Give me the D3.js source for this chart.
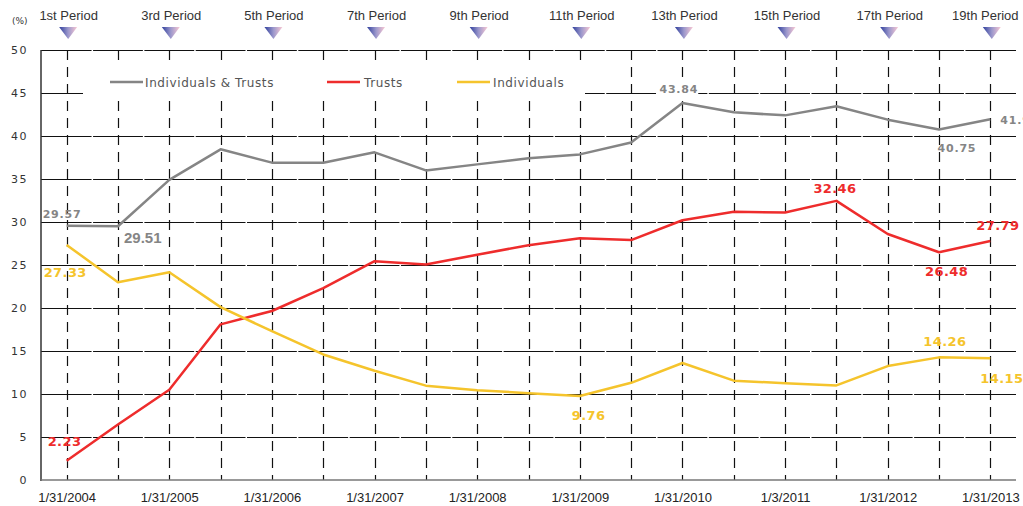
<!DOCTYPE html>
<html>
<head>
<meta charset="utf-8">
<script src="https://cdn.jsdelivr.net/npm/d3@7"></script>
<style>
  html, body { margin: 0; padding: 0; background: #fff; }
  svg { display: block; }
</style>
</head>
<body>
<svg id="chart" width="1023" height="506"></svg>
<script>
// ---------- data ----------
const dateLabels = ["1/31/2004", "", "1/31/2005", "", "1/31/2006", "", "1/31/2007", "", "1/31/2008", "",
                    "1/31/2009", "", "1/31/2010", "", "1/3/2011", "", "1/31/2012", "", "1/31/2013"];
const periodLabels = ["1st Period", "", "3rd Period", "", "5th Period", "", "7th Period", "", "9th Period", "",
                      "11th Period", "", "13th Period", "", "15th Period", "", "17th Period", "", "19th Period"];
const yTicks = [0, 5, 10, 15, 20, 25, 30, 35, 40, 45, 50];

const individualsTrusts = [29.57, 29.51, 34.9, 38.45, 36.9, 36.9, 38.1, 36.0, 36.7, 37.4,
                           37.86, 39.25, 43.84, 42.75, 42.4, 43.45, 41.9, 40.75, 41.94];
const trusts = [2.23, 6.45, 10.5, 18.1, 19.65, 22.3, 25.45, 25.05, 26.2, 27.3,
                28.1, 27.9, 30.2, 31.2, 31.1, 32.46, 28.6, 26.48, 27.79];
const individuals = [27.33, 23.0, 24.15, 20.1, 17.3, 14.6, 12.7, 10.97, 10.45, 10.1,
                     9.76, 11.3, 13.6, 11.55, 11.25, 11.0, 13.25, 14.26, 14.15];

const seriesNames = ["Individuals & Trusts", "Trusts", "Individuals"];
const seriesColors = ["#858585", "#ee2c2c", "#f5c42c"];
const seriesValues = [individualsTrusts, trusts, individuals];

// value labels: [series index, point index]
const valueLabels = [
  [0, 0], [0, 1], [0, 12], [0, 17], [0, 18],
  [1, 0], [1, 15], [1, 17], [1, 18],
  [2, 0], [2, 10], [2, 17], [2, 18]
];
// label offsets from the point (layout only)
const labelOffsets = [
  [-24, -8], [6, 17], [-23, -10], [-1.5, 22.5], [10, 4.7],
  [-19, -15], [-23, -7.5], [-14, 24], [-14, -11],
  [-23, 32], [-8, 24], [-15.7, -11.4], [-10, 25]
];

// ---------- layout ----------
const svg = d3.select("#chart");
const mLeft = 41, mRight = 1016, mTop = 50, mBottom = 480;

const x = d3.scalePoint().domain(d3.range(19)).range([mLeft, mRight]).padding(0.5);
const y = d3.scaleLinear().domain([0, 50]).range([mBottom, mTop]);
const step = x.step();

const defs = svg.append("defs");
const grad = defs.append("linearGradient").attr("id", "triGrad")
  .attr("x1", "0%").attr("x2", "100%").attr("y1", "0%").attr("y2", "0%");
grad.append("stop").attr("offset", "0%").attr("stop-color", "#2f3f9c");
grad.append("stop").attr("offset", "50%").attr("stop-color", "#9c98cc");
grad.append("stop").attr("offset", "100%").attr("stop-color", "#f9c9d4");

// horizontal gridlines
svg.append("g").selectAll("line").data(yTicks.filter(t => t > 0)).join("line")
  .attr("x1", mLeft).attr("x2", mRight)
  .attr("y1", d => y(d) + 0.5).attr("y2", d => y(d) + 0.5)
  .attr("stroke", "#111").attr("stroke-width", 1);

// small white gaps at category boundaries
svg.append("g").selectAll("line").data(d3.range(1, 19)).join("line")
  .attr("x1", d => mLeft + d * step).attr("x2", d => mLeft + d * step)
  .attr("y1", mTop - 2).attr("y2", mBottom - 3)
  .attr("stroke", "#fff").attr("stroke-width", 1.5);

// dashed verticals
svg.append("g").selectAll("line").data(d3.range(19)).join("line")
  .attr("x1", d => Math.round(x(d)) + 0.5).attr("x2", d => Math.round(x(d)) + 0.5)
  .attr("y1", mTop).attr("y2", mBottom)
  .attr("stroke", "#111").attr("stroke-width", 1.2)
  .attr("stroke-dasharray", "10,7");

// axes lines
svg.append("line").attr("x1", mLeft).attr("x2", mLeft).attr("y1", mTop).attr("y2", mBottom + 1)
  .attr("stroke", "#333").attr("stroke-width", 1.5);
svg.append("line").attr("x1", mLeft).attr("x2", mRight).attr("y1", mBottom).attr("y2", mBottom)
  .attr("stroke", "#777").attr("stroke-width", 1.6);

// y tick labels
const yAxis = svg.append("g").attr("transform", `translate(${mLeft},0)`)
  .call(d3.axisLeft(y).tickValues(yTicks).tickSize(0).tickPadding(13));
yAxis.select(".domain").remove();
yAxis.selectAll("text")
  .attr("font-family", "DejaVu Sans, sans-serif").attr("font-size", 11)
  .attr("letter-spacing", 1.5).attr("fill", "#333");

svg.append("text").attr("x", 12).attr("y", 24).text("(%)")
  .attr("font-family", "DejaVu Sans, sans-serif").attr("font-size", 9).attr("fill", "#333");

// x labels
const xAxis = svg.append("g").attr("transform", `translate(0,${mBottom})`)
  .call(d3.axisBottom(x).tickSize(0).tickPadding(13).tickFormat(i => dateLabels[i]));
xAxis.select(".domain").remove();
xAxis.selectAll("text")
  .attr("font-family", "Liberation Sans, Arial, sans-serif").attr("font-size", 13).attr("fill", "#222");

// period labels + triangles
const per = svg.append("g").selectAll("g").data(d3.range(19).filter(i => periodLabels[i])).join("g");
per.append("text")
  .attr("x", d => x(d) + (d === 18 ? -5 : 2)).attr("y", 20)
  .attr("text-anchor", "middle")
  .attr("font-family", "Liberation Sans, Arial, sans-serif").attr("font-size", 13).attr("fill", "#333")
  .text(d => periodLabels[d]);
per.append("path")
  .attr("d", d => { const cx = x(d) + 1.5; return `M${cx - 9},27 L${cx + 9},27 L${cx},39 Z`; })
  .attr("fill", "url(#triGrad)");

// legend box (white, covers grid)
svg.append("rect").attr("x", 83).attr("y", 66).attr("width", 502).attr("height", 30).attr("fill", "#fff");
const legendLineX = [110, 327, 457];
const legendTextX = [145, 364, 493];
seriesNames.forEach((name, i) => {
  svg.append("line").attr("x1", legendLineX[i]).attr("x2", legendLineX[i] + 33)
    .attr("y1", 82).attr("y2", 82).attr("stroke", seriesColors[i]).attr("stroke-width", 2.5);
  svg.append("text").attr("x", legendTextX[i]).attr("y", 86.5).text(name)
    .attr("font-family", "DejaVu Sans, sans-serif").attr("font-size", 12)
    .attr("letter-spacing", 0.6).attr("fill", "#555");
});

// series lines
const line = d3.line().x((d, i) => x(i)).y(d => y(d));
seriesValues.forEach((vals, i) => {
  svg.append("path").datum(vals).attr("d", line)
    .attr("fill", "none").attr("stroke", seriesColors[i]).attr("stroke-width", 2.5)
    .attr("stroke-linejoin", "round");
});

// value labels
valueLabels.forEach(([s, p], k) => {
  const v = seriesValues[s][p];
  const tx = x(p) + labelOffsets[k][0];
  const ty = y(v) + labelOffsets[k][1];
  const big = (s === 0 && p === 1);
  const t = svg.append("text").attr("x", tx).attr("y", ty).text(v.toFixed(2))
    .attr("font-weight", "bold").attr("fill", seriesColors[s]);
  if (big) {
    t.attr("font-family", "Liberation Sans, Arial, sans-serif").attr("font-size", 15);
  } else {
    t.attr("font-family", "DejaVu Sans, sans-serif")
      .attr("font-size", s === 0 ? 11 : 13)
      .attr("letter-spacing", s === 0 ? 0.8 : 0.4);
  }
  if (s === 0 && p === 12) {
    const bb = t.node().getBBox();
    svg.insert("rect", () => t.node()).attr("x", bb.x - 3).attr("y", bb.y).attr("width", bb.width + 3)
      .attr("height", bb.height).attr("fill", "#fff");
  }
});
</script>
</body>
</html>
